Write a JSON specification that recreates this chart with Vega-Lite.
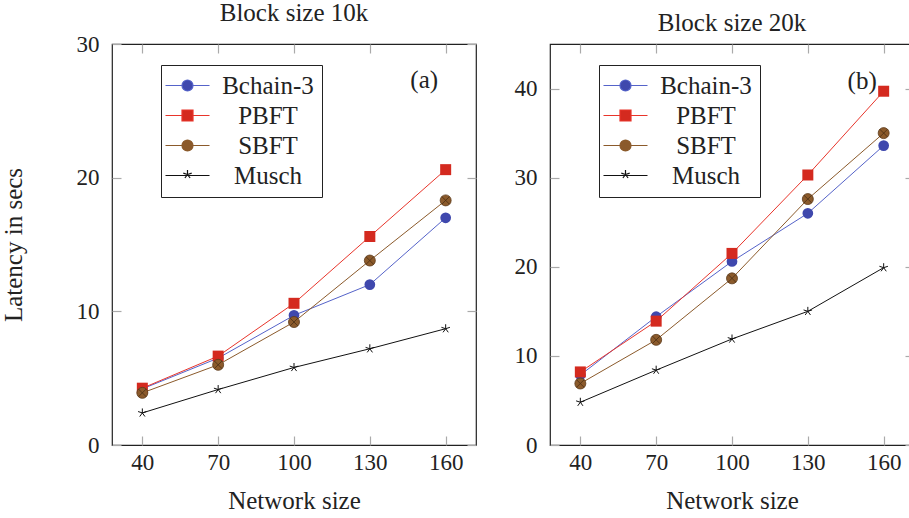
{
  "$schema": "https://vega.github.io/schema/vega-lite/v6.json",
  "padding": {"left": 0, "top": 0, "right": 0, "bottom": 0},
  "spacing": 35,
  "resolve": {"scale": {"shape": "independent", "fill": "independent", "stroke": "independent"}, "legend": {"shape": "independent", "fill": "independent", "stroke": "independent"}},
  "config": {
    "font": "Liberation Serif",
    "style": {"guide-label": {"font": "Liberation Serif"}, "guide-title": {"font": "Liberation Serif"}},
    "view": {"stroke": "#222", "strokeWidth": 1.2},
    "axis": {
      "domain": false, "grid": false,
      "tickColor": "#aaa", "tickSize": -9, "tickWidth": 1.2,
      "labelFont": "Liberation Serif", "labelFontSize": 23, "labelColor": "#222",
      "titleFont": "Liberation Serif", "titleFontSize": 25, "titleFontWeight": "normal", "titleColor": "#222"
    },
    "title": {"font": "Liberation Serif", "fontSize": 25, "fontWeight": "normal", "color": "#222", "offset": 7},
    "legend": {
      "orient": "none", "legendX": 49, "legendY": 21,
      "strokeColor": "#222", "fillColor": "white", "padding": 8,
      "labelFont": "Liberation Serif", "labelFontSize": 25, "labelColor": "#222",
      "labelAlign": "center", "labelOffset": 68, "symbolOffset": 6,
      "symbolSize": 400, "symbolStrokeWidth": 1.2, "rowPadding": 4
    }
  },
  "datasets": {
    "a": [
      {"n": 40, "series": "Bchain-3", "lat": 4.2},
      {"n": 70, "series": "Bchain-3", "lat": 6.5},
      {"n": 100, "series": "Bchain-3", "lat": 9.7},
      {"n": 130, "series": "Bchain-3", "lat": 12.0},
      {"n": 160, "series": "Bchain-3", "lat": 17.0},
      {"n": 40, "series": "PBFT", "lat": 4.25},
      {"n": 70, "series": "PBFT", "lat": 6.65},
      {"n": 100, "series": "PBFT", "lat": 10.6},
      {"n": 130, "series": "PBFT", "lat": 15.6},
      {"n": 160, "series": "PBFT", "lat": 20.6},
      {"n": 40, "series": "SBFT", "lat": 3.9},
      {"n": 70, "series": "SBFT", "lat": 6.0},
      {"n": 100, "series": "SBFT", "lat": 9.2},
      {"n": 130, "series": "SBFT", "lat": 13.8},
      {"n": 160, "series": "SBFT", "lat": 18.3},
      {"n": 40, "series": "Musch", "lat": 2.4},
      {"n": 70, "series": "Musch", "lat": 4.15},
      {"n": 100, "series": "Musch", "lat": 5.8},
      {"n": 130, "series": "Musch", "lat": 7.2},
      {"n": 160, "series": "Musch", "lat": 8.7}
    ],
    "b": [
      {"n": 40, "series": "Bchain-3", "lat": 7.85},
      {"n": 70, "series": "Bchain-3", "lat": 14.4},
      {"n": 100, "series": "Bchain-3", "lat": 20.6},
      {"n": 130, "series": "Bchain-3", "lat": 26.0},
      {"n": 160, "series": "Bchain-3", "lat": 33.6},
      {"n": 40, "series": "PBFT", "lat": 8.2},
      {"n": 70, "series": "PBFT", "lat": 13.9},
      {"n": 100, "series": "PBFT", "lat": 21.5},
      {"n": 130, "series": "PBFT", "lat": 30.3},
      {"n": 160, "series": "PBFT", "lat": 39.7},
      {"n": 40, "series": "SBFT", "lat": 6.9},
      {"n": 70, "series": "SBFT", "lat": 11.8},
      {"n": 100, "series": "SBFT", "lat": 18.7},
      {"n": 130, "series": "SBFT", "lat": 27.6},
      {"n": 160, "series": "SBFT", "lat": 35.0},
      {"n": 40, "series": "Musch", "lat": 4.8},
      {"n": 70, "series": "Musch", "lat": 8.4},
      {"n": 100, "series": "Musch", "lat": 11.9},
      {"n": 130, "series": "Musch", "lat": 15.0},
      {"n": 160, "series": "Musch", "lat": 19.9}
    ]
  },
  "hconcat": [
    {
      "data": {"name": "a"},
      "width": 364, "height": 401,
      "title": "Block size 10k",
      "resolve": {"axis": {"x": "independent", "y": "independent"}},
      "layer": [
        {
          "transform": [{"filter": "datum.series === 'Bchain-3'"}],
          "mark": {"type": "line", "strokeWidth": 1, "stroke": "#5563c9",
                   "point": {"shape": "circle", "filled": true, "size": 115, "fill": "#3f48ad", "opacity": 1}},
          "encoding": {
            "x": {"field": "n", "type": "quantitative", "scale": {"domain": [28, 172], "nice": false, "zero": false},
                  "axis": {"orient": "bottom", "values": [40, 70, 100, 130, 160], "title": "Network size", "labelPadding": 15, "titlePadding": 14}},
            "y": {"field": "lat", "type": "quantitative", "scale": {"domain": [0, 30], "nice": false},
                  "axis": {"orient": "left", "values": [0, 10, 20, 30], "title": "Latency in secs", "labelPadding": 22, "titlePadding": 50}}
          }
        },
        {
          "transform": [{"filter": "datum.series === 'PBFT'"}],
          "mark": {"type": "line", "strokeWidth": 1, "stroke": "#e8352b",
                   "point": {"shape": "square", "filled": true, "size": 121, "fill": "#d42a1f", "opacity": 1}},
          "encoding": {
            "x": {"field": "n", "type": "quantitative", "axis": {"orient": "top", "values": [40, 70, 100, 130, 160], "labels": false, "title": null}},
            "y": {"field": "lat", "type": "quantitative", "axis": {"orient": "right", "values": [0, 10, 20, 30], "labels": false, "title": null}}
          }
        },
        {
          "transform": [{"filter": "datum.series === 'SBFT'"}],
          "mark": {"type": "line", "strokeWidth": 1, "stroke": "#8b5a2b",
                   "point": {"shape": "circle", "filled": true, "size": 121, "fill": "#8b5a2b", "stroke": "#5c3a1a", "strokeWidth": 0.8, "opacity": 1}},
          "encoding": {
            "x": {"field": "n", "type": "quantitative", "axis": null},
            "y": {"field": "lat", "type": "quantitative", "axis": null}
          }
        },
        {
          "transform": [{"filter": "datum.series === 'SBFT'"}],
          "mark": {"type": "point", "shape": "M-0.7,-0.7L0.7,0.7M-0.7,0.7L0.7,-0.7", "filled": false, "size": 121, "stroke": "#4a2e14", "strokeWidth": 0.8, "opacity": 1},
          "encoding": {
            "x": {"field": "n", "type": "quantitative", "axis": null},
            "y": {"field": "lat", "type": "quantitative", "axis": null}
          }
        },
        {
          "transform": [{"filter": "datum.series === 'Musch'"}],
          "mark": {"type": "line", "strokeWidth": 1, "stroke": "#111111",
                   "point": {"shape": "M0,0L0,-1M0,0L0.951,-0.309M0,0L0.588,0.809M0,0L-0.588,0.809M0,0L-0.951,-0.309", "filled": false, "size": 80, "stroke": "#111111", "strokeWidth": 1, "opacity": 1}},
          "encoding": {
            "x": {"field": "n", "type": "quantitative", "axis": null},
            "y": {"field": "lat", "type": "quantitative", "axis": null}
          }
        },
        {
          "data": {"values": [{"label": "(a)", "px": 151.5, "py": 27.3}]},
          "mark": {"type": "text", "fontSize": 25, "font": "Liberation Serif", "color": "#222"},
          "encoding": {
            "x": {"field": "px", "type": "quantitative", "axis": null},
            "y": {"field": "py", "type": "quantitative", "axis": null},
            "text": {"field": "label"}
          }
        },
        {
          "transform": [{"filter": "false"}],
          "mark": {"type": "point", "opacity": 1},
          "encoding": {
            "shape": {"field": "series", "type": "nominal",
                      "scale": {"domain": ["Bchain-3", "PBFT", "SBFT", "Musch"],
                                "range": [
                                  "M-2.2,0L-0.55,0M0.55,0L2.2,0M0.55,0A0.55,0.55,0,1,1,-0.55,0A0.55,0.55,0,1,1,0.55,0Z",
                                  "M-2.2,0L-0.55,0M0.55,0L2.2,0M-0.55,-0.55L0.55,-0.55L0.55,0.55L-0.55,0.55Z",
                                  "M-2.2,0L-0.55,0M0.55,0L2.2,0M0.55,0A0.55,0.55,0,1,1,-0.55,0A0.55,0.55,0,1,1,0.55,0ZM-0.39,-0.39L0.39,0.39M-0.39,0.39L0.39,-0.39",
                                  "M-2.2,0L2.2,0M0,-0.1L0,-0.55M0,-0.1L0.42,-0.24M0,-0.1L0.26,0.25M0,-0.1L-0.26,0.25M0,-0.1L-0.42,-0.24"
                                ]},
                      "legend": {"title": null, "labelFont": "Liberation Serif", "labelFontSize": 25,
                                 "encode": {"labels": {"update": {"font": {"value": "Liberation Serif"}}}}}},
            "fill": {"field": "series", "type": "nominal",
                     "scale": {"domain": ["Bchain-3", "PBFT", "SBFT", "Musch"], "range": ["#3f48ad", "#d42a1f", "#8b5a2b", "transparent"]},
                     "legend": {"title": null, "labelFont": "Liberation Serif", "labelFontSize": 25,
                                "encode": {"labels": {"update": {"font": {"value": "Liberation Serif"}}}}}},
            "stroke": {"field": "series", "type": "nominal",
                       "scale": {"domain": ["Bchain-3", "PBFT", "SBFT", "Musch"], "range": ["#5563c9", "#e8352b", "#8b5a2b", "#111111"]},
                       "legend": {"title": null, "labelFont": "Liberation Serif", "labelFontSize": 25,
                                  "encode": {"labels": {"update": {"font": {"value": "Liberation Serif"}}}}}}
          }
        }
      ]
    },
    {
      "data": {"name": "b"},
      "width": 364, "height": 401,
      "title": "Block size 20k",
      "resolve": {"axis": {"x": "independent", "y": "independent"}},
      "layer": [
        {
          "transform": [{"filter": "datum.series === 'Bchain-3'"}],
          "mark": {"type": "line", "strokeWidth": 1, "stroke": "#5563c9",
                   "point": {"shape": "circle", "filled": true, "size": 115, "fill": "#3f48ad", "opacity": 1}},
          "encoding": {
            "x": {"field": "n", "type": "quantitative", "scale": {"domain": [28, 172], "nice": false, "zero": false},
                  "axis": {"orient": "bottom", "values": [40, 70, 100, 130, 160], "title": "Network size", "labelPadding": 15, "titlePadding": 14}},
            "y": {"field": "lat", "type": "quantitative", "scale": {"domain": [0, 45], "nice": false},
                  "axis": {"orient": "left", "values": [0, 10, 20, 30, 40], "title": null, "labelPadding": 22}}
          }
        },
        {
          "transform": [{"filter": "datum.series === 'PBFT'"}],
          "mark": {"type": "line", "strokeWidth": 1, "stroke": "#e8352b",
                   "point": {"shape": "square", "filled": true, "size": 121, "fill": "#d42a1f", "opacity": 1}},
          "encoding": {
            "x": {"field": "n", "type": "quantitative", "axis": {"orient": "top", "values": [40, 70, 100, 130, 160], "labels": false, "title": null}},
            "y": {"field": "lat", "type": "quantitative", "axis": {"orient": "right", "values": [0, 10, 20, 30, 40], "labels": false, "title": null}}
          }
        },
        {
          "transform": [{"filter": "datum.series === 'SBFT'"}],
          "mark": {"type": "line", "strokeWidth": 1, "stroke": "#8b5a2b",
                   "point": {"shape": "circle", "filled": true, "size": 121, "fill": "#8b5a2b", "stroke": "#5c3a1a", "strokeWidth": 0.8, "opacity": 1}},
          "encoding": {
            "x": {"field": "n", "type": "quantitative", "axis": null},
            "y": {"field": "lat", "type": "quantitative", "axis": null}
          }
        },
        {
          "transform": [{"filter": "datum.series === 'SBFT'"}],
          "mark": {"type": "point", "shape": "M-0.7,-0.7L0.7,0.7M-0.7,0.7L0.7,-0.7", "filled": false, "size": 121, "stroke": "#4a2e14", "strokeWidth": 0.8, "opacity": 1},
          "encoding": {
            "x": {"field": "n", "type": "quantitative", "axis": null},
            "y": {"field": "lat", "type": "quantitative", "axis": null}
          }
        },
        {
          "transform": [{"filter": "datum.series === 'Musch'"}],
          "mark": {"type": "line", "strokeWidth": 1, "stroke": "#111111",
                   "point": {"shape": "M0,0L0,-1M0,0L0.951,-0.309M0,0L0.588,0.809M0,0L-0.588,0.809M0,0L-0.951,-0.309", "filled": false, "size": 80, "stroke": "#111111", "strokeWidth": 1, "opacity": 1}},
          "encoding": {
            "x": {"field": "n", "type": "quantitative", "axis": null},
            "y": {"field": "lat", "type": "quantitative", "axis": null}
          }
        },
        {
          "data": {"values": [{"label": "(b)", "px": 151.5, "py": 40.9}]},
          "mark": {"type": "text", "fontSize": 25, "font": "Liberation Serif", "color": "#222"},
          "encoding": {
            "x": {"field": "px", "type": "quantitative", "axis": null},
            "y": {"field": "py", "type": "quantitative", "axis": null},
            "text": {"field": "label"}
          }
        },
        {
          "transform": [{"filter": "false"}],
          "mark": {"type": "point", "opacity": 1},
          "encoding": {
            "shape": {"field": "series", "type": "nominal",
                      "scale": {"domain": ["Bchain-3", "PBFT", "SBFT", "Musch"],
                                "range": [
                                  "M-2.2,0L-0.55,0M0.55,0L2.2,0M0.55,0A0.55,0.55,0,1,1,-0.55,0A0.55,0.55,0,1,1,0.55,0Z",
                                  "M-2.2,0L-0.55,0M0.55,0L2.2,0M-0.55,-0.55L0.55,-0.55L0.55,0.55L-0.55,0.55Z",
                                  "M-2.2,0L-0.55,0M0.55,0L2.2,0M0.55,0A0.55,0.55,0,1,1,-0.55,0A0.55,0.55,0,1,1,0.55,0ZM-0.39,-0.39L0.39,0.39M-0.39,0.39L0.39,-0.39",
                                  "M-2.2,0L2.2,0M0,-0.1L0,-0.55M0,-0.1L0.42,-0.24M0,-0.1L0.26,0.25M0,-0.1L-0.26,0.25M0,-0.1L-0.42,-0.24"
                                ]},
                      "legend": {"title": null, "labelFont": "Liberation Serif", "labelFontSize": 25,
                                 "encode": {"labels": {"update": {"font": {"value": "Liberation Serif"}}}}}},
            "fill": {"field": "series", "type": "nominal",
                     "scale": {"domain": ["Bchain-3", "PBFT", "SBFT", "Musch"], "range": ["#3f48ad", "#d42a1f", "#8b5a2b", "transparent"]},
                     "legend": {"title": null, "labelFont": "Liberation Serif", "labelFontSize": 25,
                                "encode": {"labels": {"update": {"font": {"value": "Liberation Serif"}}}}}},
            "stroke": {"field": "series", "type": "nominal",
                       "scale": {"domain": ["Bchain-3", "PBFT", "SBFT", "Musch"], "range": ["#5563c9", "#e8352b", "#8b5a2b", "#111111"]},
                       "legend": {"title": null, "labelFont": "Liberation Serif", "labelFontSize": 25,
                                  "encode": {"labels": {"update": {"font": {"value": "Liberation Serif"}}}}}}
          }
        }
      ]
    }
  ]
}
